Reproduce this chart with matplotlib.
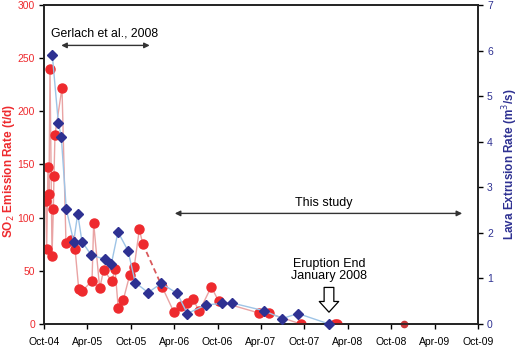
import numpy as np
import matplotlib.pyplot as plt

plt.rcParams['font.family'] = ['Liberation Sans', 'DejaVu Sans']

# x values are months since October 2004
so2_month = [0.24, 0.37, 0.55, 0.69, 0.83, 1.11, 1.29, 1.38, 1.52, 2.49, 3.04, 3.69,
             4.29, 4.80, 5.25, 6.64, 6.87, 7.70, 8.25, 9.36, 9.82, 10.27, 10.96, 11.85,
             12.48, 13.18, 13.65, 16.36, 17.93, 18.90, 19.77, 20.60, 21.47, 23.13, 24.15,
             29.73, 31.11, 35.49, 40.23, 40.50]
so2_rate = [116, 70.5, 148, 122, 240, 64, 108, 139, 178, 222, 76.5, 79,
            71, 33, 30.7, 40.7, 94.7, 33.6, 50.8, 40.4, 51.4, 14.7, 22.6, 46,
            54, 89, 75.5, 34.5, 11.6, 17, 20, 23.2, 12, 35, 21.3,
            10.3, 10, 0, 0, 0]
so2_late_month = [49.77]
so2_late_rate = [0]

lava_month = [1.15, 1.98, 2.39, 3.08, 4.11, 4.66, 5.25, 6.54, 8.43, 9.30, 10.23, 11.61,
              12.62, 14.38, 16.22, 18.43, 19.81, 22.40, 24.64, 26.03, 30.44, 32.95,
              35.12, 39.40]
lava_rate = [5.9, 4.42, 4.11, 2.52, 1.81, 2.42, 1.81, 1.51, 1.42, 1.31, 2.02, 1.61,
             0.91, 0.69, 0.89, 0.67, 0.23, 0.42, 0.45, 0.46, 0.29, 0.12,
             0.23, 0.0]

tick_month = [0, 6, 12, 18, 24, 30, 36, 42, 48, 54, 60]
tick_labels = ['Oct-04', 'Apr-05', 'Oct-05', 'Apr-06', 'Oct-06', 'Apr-07', 'Oct-07',
               'Apr-08', 'Oct-08', 'Apr-09', 'Oct-09']

red = '#ee2a2e'
red_line = '#e9a3a3'
navy = '#2e3192'
blue_line = '#9ec4e6'
gap = 26  # segment after this index is dashed

fig = plt.figure(figsize=(5.2, 3.5), dpi=100)
ax = fig.add_axes([0.0846, 0.0743, 0.8346, 0.9114])
ax2 = ax.twinx()

# SO2 line: solid, one dashed gap, solid
ax.plot(so2_month[:gap + 1], so2_rate[:gap + 1], color=red_line, lw=1, zorder=2)
ax.plot(so2_month[gap:gap + 2], so2_rate[gap:gap + 2], color='#d9595c', lw=1.3,
        ls=(0, (3, 2)), zorder=2)
ax.plot(so2_month[gap + 1:], so2_rate[gap + 1:], color=red_line, lw=1, zorder=2)
ax.plot(so2_month, so2_rate, ls='none', marker='o', ms=6.5, color=red, zorder=3)
ax.plot(so2_late_month, so2_late_rate, ls='none', marker='o', ms=4.5, color='#c9383b',
        zorder=3, clip_on=False)

ax2.plot(lava_month, lava_rate, color=blue_line, lw=1, zorder=2)
ax2.plot(lava_month, lava_rate, ls='none', marker='D', ms=5.2, color=navy, zorder=3,
         clip_on=False)

ax.set_xlim(0, 60)
ax.set_ylim(0, 300)
ax2.set_ylim(0, 7)
ax.set_xticks(tick_month)
ax.set_xticklabels(tick_labels)
ax.set_yticks(np.arange(0, 301, 50))
ax2.set_yticks(np.arange(0, 8, 1))

ax.tick_params(axis='x', labelsize=7.5, length=3.5, width=1, pad=6, colors='black')
ax.tick_params(axis='y', labelsize=7.5, length=3.5, width=1, pad=3, labelcolor=red)
ax2.tick_params(axis='y', labelsize=7.5, length=3.5, width=1, pad=3, labelcolor=navy)
for sp in list(ax.spines.values()) + list(ax2.spines.values()):
    sp.set_color('#222222')
    sp.set_linewidth(1.2)

ax.set_ylabel('SO$_2$ Emission Rate (t/d)', color=red, fontsize=8.5, fontweight='bold')
ax.yaxis.set_label_coords(-0.063, 0.48)
ax2.set_ylabel('Lava Extrusion Rate (m$^3$/s)', color=navy, fontsize=8.5,
               fontweight='bold')
ax2.yaxis.set_label_coords(1.052, 0.5)

# annotations
ax.text(8.36, 273, 'Gerlach et al., 2008', fontsize=8.8, ha='center', va='center')
ax.annotate('', xy=(2.0, 262), xytext=(15.0, 262),
            arrowprops=dict(arrowstyle='<|-|>', color='#333333', lw=1,
                            mutation_scale=8))
ax.text(38.7, 114, 'This study', fontsize=9, ha='center', va='center')
ax.annotate('', xy=(17.7, 104), xytext=(58.2, 104),
            arrowprops=dict(arrowstyle='<|-|>', color='#333333', lw=1,
                            mutation_scale=8))
ax.text(39.4, 51, 'Eruption End\nJanuary 2008', fontsize=9, ha='center', va='center',
        linespacing=1.0)
ax.annotate('', xy=(39.4, 8.5), xytext=(39.4, 37),
            arrowprops=dict(arrowstyle='simple,head_length=0.55,head_width=1.0,tail_width=0.5',
                            fc='white', ec='black', lw=0.9, mutation_scale=14))

fig.savefig('out.png', dpi=100)
